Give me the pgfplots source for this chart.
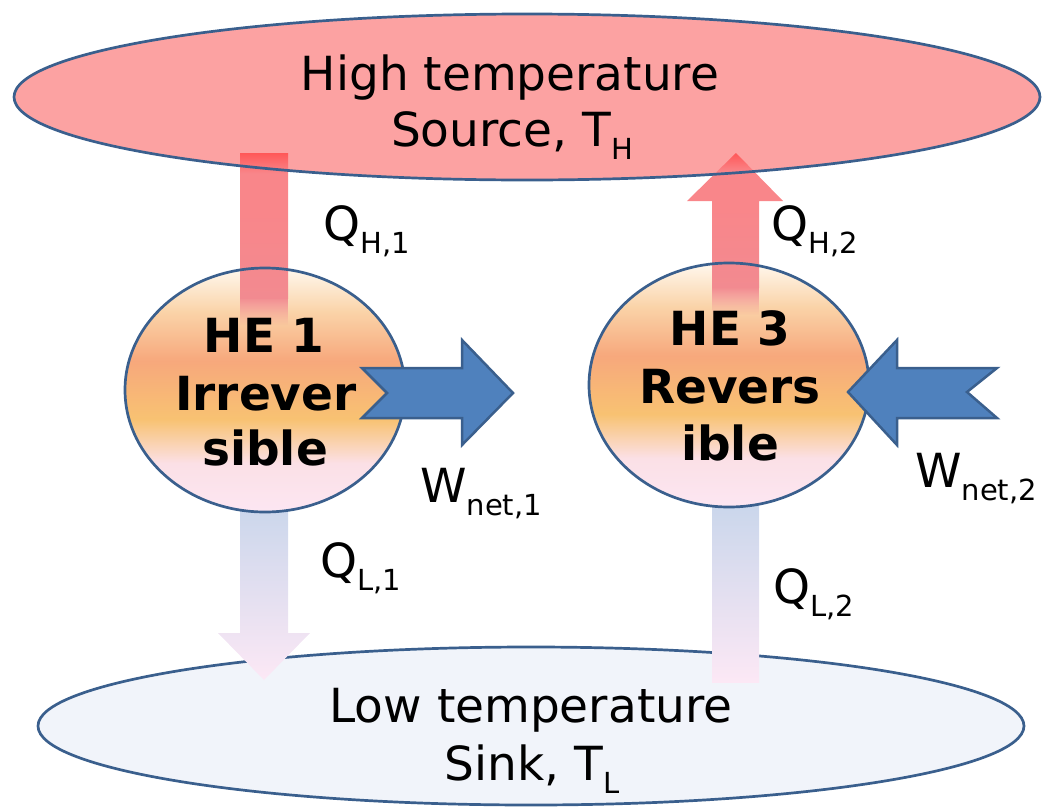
\documentclass[border=0pt]{standalone}
\usepackage{fontspec}
\setmainfont{DejaVu Sans}
\usepackage{pgfplots}
\pgfplotsset{compat=1.18}
\usetikzlibrary{fadings}
\definecolor{topfill}{HTML}{FCA2A2}
\definecolor{botfill}{HTML}{F1F4FA}
\definecolor{bord}{HTML}{3A5F8D}
\definecolor{wfill}{HTML}{4F81BD}
\definecolor{wbord}{HTML}{3A5F8D}
\definecolor{barTop}{HTML}{FF5858}
\definecolor{barMid}{HTML}{F9868A}
\definecolor{barBot}{HTML}{F28A90}
\definecolor{lowTop}{HTML}{C3D4EA}
\definecolor{lowBot}{HTML}{FCE8F5}
\definecolor{hePink}{HTML}{FCE6F2}
\definecolor{hePinkB}{HTML}{FBE0E6}
\definecolor{heYellow}{HTML}{F8C272}
\definecolor{heOrange}{HTML}{F7A87C}
\definecolor{heLight}{HTML}{FAD3A8}
\definecolor{heTop}{HTML}{FFF8EE}
\pgfdeclareverticalshading{heshade}{100bp}{color(0bp)=(hePink); color(25bp)=(hePink); color(35bp)=(hePinkB); color(44bp)=(heYellow); color(56bp)=(heOrange); color(66bp)=(heLight); color(75bp)=(heTop); color(100bp)=(heTop)}
\pgfdeclareverticalshading{barshade}{100bp}{color(0bp)=(barBot); color(25bp)=(barBot); color(55bp)=(barMid); color(68bp)=(barMid); color(75bp)=(barTop); color(100bp)=(barTop)}
\tikzfading[name=fadedown, top color=transparent!0, bottom color=transparent!100]
\newcommand{\subt}[1]{\raisebox{-13pt}{\fontsize{29}{29}\selectfont #1}}
\newcommand{\bigf}{\fontsize{47}{56}\selectfont}
\newcommand{\bigbf}{\fontsize{47}{56}\selectfont\bfseries}
\begin{document}
\begin{tikzpicture}
\begin{axis}[scale only axis, width=1061pt, height=809pt,
  xmin=0, xmax=1061, ymin=0, ymax=809, y dir=reverse,
  hide axis, clip=false]
\path (axis cs:0,0) rectangle (axis cs:1061,809);
% reservoirs
\fill[topfill] (axis cs:527,97) ellipse [x radius=513pt, y radius=83pt];
\fill[botfill] (axis cs:531,726) ellipse [x radius=493pt, y radius=79pt];
\draw[bord, line width=2.7pt] (axis cs:531,726) ellipse [x radius=493pt, y radius=79pt];
% lower heat flows
\shade[top color=lowTop, bottom color=lowBot] (axis cs:240,480) -- (axis cs:288,480) -- (axis cs:288,633) -- (axis cs:310,633) -- (axis cs:264,680) -- (axis cs:218,633) -- (axis cs:240,633) -- cycle;
\shade[top color=lowTop, bottom color=lowBot] (axis cs:712,480) rectangle (axis cs:759,682);
% engines
\shade[shading=heshade] (axis cs:265,390) ellipse [x radius=140pt, y radius=122pt];
\shade[shading=heshade] (axis cs:729,385) ellipse [x radius=140pt, y radius=122pt];
% upper heat flows
\shade[shading=barshade] (axis cs:240,153) rectangle (axis cs:288,298);
\fill[barBot, path fading=fadedown] (axis cs:240,297) rectangle (axis cs:288,325);
\shade[shading=barshade] (axis cs:736,153) -- (axis cs:783,201) -- (axis cs:759,201) -- (axis cs:759,288) -- (axis cs:712,288) -- (axis cs:712,201) -- (axis cs:687,201) -- cycle;
\fill[barBot, path fading=fadedown] (axis cs:712,287) rectangle (axis cs:759,315);
\draw[bord, line width=2.7pt] (axis cs:527,97) ellipse [x radius=513pt, y radius=83pt];
\draw[bord, line width=2.7pt] (axis cs:265,390) ellipse [x radius=140pt, y radius=122pt];
\draw[bord, line width=2.7pt] (axis cs:729,385) ellipse [x radius=140pt, y radius=122pt];
% work arrows
\addplot[fill=wfill, draw=wbord, line width=2.5pt, mark=none] coordinates {(362,368) (462,368) (462,340) (513,393) (462,445) (462,418) (362,418) (387,393)} -- cycle;
\addplot[fill=wfill, draw=wbord, line width=2.5pt, mark=none] coordinates {(848,392) (897,340) (897,368) (997,368) (967,392) (997,418) (897,418) (897,445)} -- cycle;
% texts
\node[anchor=base, inner sep=0pt] at (axis cs:510,90) {\bigf High temperature};
\node[anchor=base, inner sep=0pt] at (axis cs:512,146) {\bigf Source, T\subt{H}};
\node[anchor=base, inner sep=0pt] at (axis cs:531,722) {\bigf Low temperature};
\node[anchor=base, inner sep=0pt] at (axis cs:532,780) {\bigf Sink, T\subt{L}};
\node[anchor=base west, inner sep=0pt] at (axis cs:323,240) {\bigf Q\subt{H,1}};
\node[anchor=base west, inner sep=0pt] at (axis cs:771,240) {\bigf Q\subt{H,2}};
\node[anchor=base west, inner sep=0pt] at (axis cs:320,577) {\bigf Q\subt{L,1}};
\node[anchor=base west, inner sep=0pt] at (axis cs:773,603) {\bigf Q\subt{L,2}};
\node[anchor=base west, inner sep=0pt] at (axis cs:420,502) {\bigf W\subt{net,1}};
\node[anchor=base west, inner sep=0pt] at (axis cs:915,487) {\bigf W\subt{net,2}};
\node[anchor=base, inner sep=0pt] at (axis cs:264,352) {\bigbf HE 1};
\node[anchor=base, inner sep=0pt] at (axis cs:266,410) {\bigbf Irrever};
\node[anchor=base, inner sep=0pt] at (axis cs:265,465) {\bigbf sible};
\node[anchor=base, inner sep=0pt] at (axis cs:730,345) {\bigbf HE 3};
\node[anchor=base, inner sep=0pt] at (axis cs:730,403) {\bigbf Revers};
\node[anchor=base, inner sep=0pt] at (axis cs:730,460) {\bigbf ible};
\end{axis}
\end{tikzpicture}
\end{document}
